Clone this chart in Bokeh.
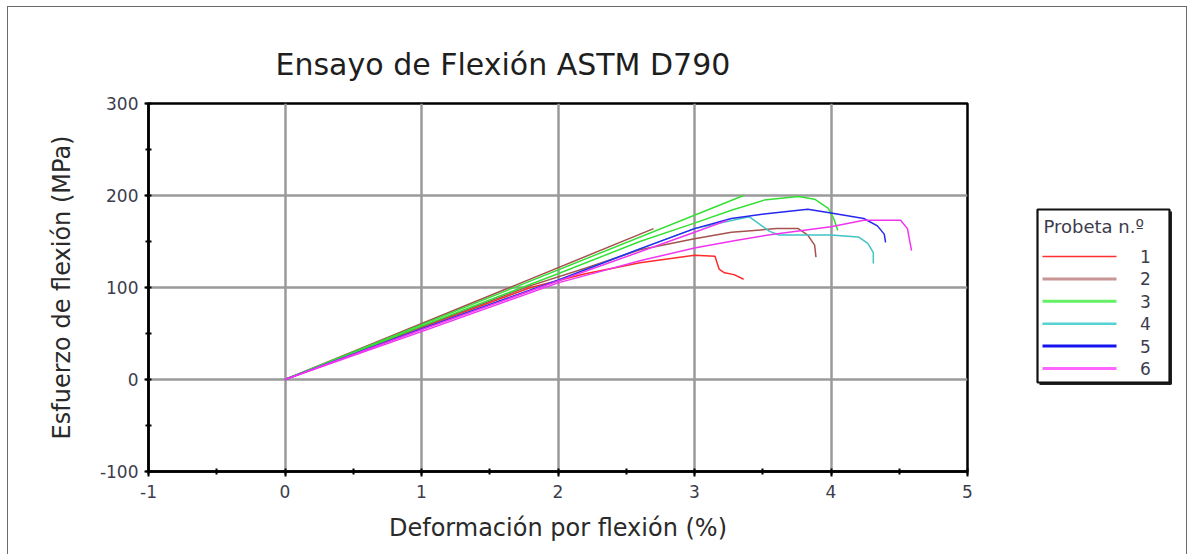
from bokeh.plotting import figure
from bokeh.layouts import row
from bokeh.models import SingleIntervalTicker, Range1d
from bokeh.core.properties import value
from bokeh.embed import file_html
from bokeh.resources import INLINE

FONT = "DejaVu Sans"

# Deformación por flexión (%) vs esfuerzo de flexión (MPa) por probeta.
# Algunas probetas tienen dos tramos registrados.
s1_strain = [0.0, 1.0, 1.8, 2.2, 2.6, 3.0, 3.15, 3.18, 3.22, 3.29, 3.36]
s1_stress = [0, 56, 100, 115, 127, 135, 134, 120, 116, 114, 109]

s2a_strain = [0.0, 2.70]
s2a_stress = [0, 164]
s2b_strain = [0.0, 1.0, 1.8, 2.2, 2.6, 3.0, 3.27, 3.6, 3.76, 3.83, 3.88, 3.89]
s2b_stress = [0, 57, 102, 121, 141, 153, 160, 164, 164, 157, 146, 133]

s3a_strain = [0.0, 3.36]
s3a_stress = [0, 200]
s3b_strain = [0.0, 1.0, 2.0, 2.6, 3.0, 3.27, 3.51, 3.76, 3.88, 3.98, 4.02, 4.05]
s3b_stress = [0, 58, 115, 150, 170, 184, 195, 199, 196, 186, 175, 162]

s4_strain = [0.0, 1.0, 2.0, 2.6, 3.0, 3.4, 3.55, 3.62, 4.0, 4.2, 4.27, 4.31, 4.31]
s4_stress = [0, 55, 108, 142, 164, 177, 161, 157, 157, 155, 148, 138, 126]

s5_strain = [0.0, 1.0, 2.0, 2.6, 3.0, 3.27, 3.51, 3.83, 4.0, 4.24, 4.34, 4.39, 4.40]
s5_stress = [0, 55, 108, 142, 164, 175, 180, 185, 181, 175, 167, 158, 149]

s6a_strain = [0.0, 1.0, 2.0, 3.0, 3.24]
s6a_stress = [0, 54, 107, 160, 173]
s6b_strain = [0.0, 1.0, 2.0, 2.3, 2.6, 3.0, 3.3, 3.58, 4.0, 4.24, 4.51, 4.56, 4.59]
s6b_stress = [0, 52, 105, 117, 129, 143, 151, 158, 166, 173, 173, 164, 140]

labels = ["1", "2", "3", "4", "5", "6"]
line_colors = ["#ff2a2a", "#a4524e", "#34e034", "#40c4c4", "#2626f0", "#f034f0"]
legend_colors = ["#ff3030", "#c89494", "#66f066", "#55d2d2", "#1414f0", "#ff66ff"]
legend_widths = [1.6, 3, 3, 2.5, 3, 3]

MAIN_W, H = 1020, 547
BORDER_TOP, BORDER_BOTTOM = 96, 83

p = figure(width=MAIN_W, height=H,
           x_range=Range1d(-1, 5), y_range=Range1d(-100, 300),
           output_backend="svg", toolbar_location=None,
           min_border_left=140, min_border_right=MAIN_W - 140 - 819,
           min_border_top=BORDER_TOP, min_border_bottom=BORDER_BOTTOM)

p.title.text = "Ensayo de Flexión ASTM D790"
p.title.text_font = FONT
p.title.text_font_size = "30px"
p.title.text_font_style = "normal"
p.title.text_color = "#1e1e1e"
p.title.align = "left"
p.title.offset = 127
p.title.standoff = 44

p.outline_line_color = "black"
p.outline_line_width = 2.5
p.background_fill_color = "white"
p.border_fill_color = "white"

p.xaxis.ticker = SingleIntervalTicker(interval=1, num_minor_ticks=2)
p.yaxis.ticker = SingleIntervalTicker(interval=100, num_minor_ticks=2)
p.xaxis.major_label_overrides = {-1: "-1"}
p.yaxis.major_label_overrides = {-100: "-100"}
for ax in (p.xaxis[0], p.yaxis[0]):
    ax.axis_line_color = "black"
    ax.axis_line_width = 2.5
    ax.major_tick_line_color = "black"
    ax.major_tick_line_width = 2
    ax.minor_tick_line_color = "black"
    ax.minor_tick_line_width = 2
    ax.major_tick_in = 0
    ax.minor_tick_in = 3
    ax.minor_tick_out = 3
    ax.major_label_text_font = FONT
    ax.major_label_text_font_size = "17px"
    ax.major_label_text_color = "#3c3c4c"
    ax.axis_label_text_font = FONT
    ax.axis_label_text_font_size = "24px"
    ax.axis_label_text_font_style = "normal"
    ax.axis_label_text_color = "#2a2a2a"

p.xaxis.axis_label = "Deformación por flexión (%)"
p.yaxis.axis_label = "Esfuerzo de flexión (MPa)"
p.xaxis.major_tick_out = 5
p.yaxis.major_tick_out = 4
p.xaxis.major_label_standoff = 8
p.yaxis.major_label_standoff = 6
p.xaxis.axis_label_standoff = 13
p.yaxis.axis_label_standoff = 21

p.xgrid.grid_line_color = "#9a9a9a"
p.ygrid.grid_line_color = "#9a9a9a"
p.xgrid.grid_line_width = 2.5
p.ygrid.grid_line_width = 2.5

series = [
    [(s1_strain, s1_stress)],
    [(s2a_strain, s2a_stress), (s2b_strain, s2b_stress)],
    [(s3a_strain, s3a_stress), (s3b_strain, s3b_stress)],
    [(s4_strain, s4_stress)],
    [(s5_strain, s5_stress)],
    [(s6a_strain, s6a_stress), (s6b_strain, s6b_stress)],
]
for pieces, color in zip(series, line_colors):
    for xs, ys in pieces:
        p.line(xs, ys, line_color=color, line_width=1.5)

# Legend panel: a small figure beside the chart, in page-pixel units.
# Its frame lines up vertically with the chart frame (page y 103..471).
X0 = 8 + MAIN_W
LEG_W = 1178 - MAIN_W
leg = figure(width=LEG_W, height=H,
             x_range=Range1d(X0, X0 + LEG_W), y_range=Range1d(471, 103),
             output_backend="svg", toolbar_location=None,
             min_border_left=0, min_border_right=0,
             min_border_top=BORDER_TOP, min_border_bottom=BORDER_BOTTOM,
             outline_line_color=None)
leg.axis.visible = False
leg.grid.visible = False
leg.background_fill_color = "white"
leg.border_fill_color = "white"

box_l, box_r, box_t, box_b = 1037, 1169, 209, 382
# drop shadow on the right and bottom edges
leg.line([box_l + 2, box_r + 1.5, box_r + 1.5], [box_b + 1.5, box_b + 1.5, box_t + 2],
         line_color="#222222", line_width=2)
leg.quad(left=[box_l], right=[box_r], top=[box_t], bottom=[box_b],
         fill_color="white", line_color="#111111", line_width=2.2)
leg.text(x=[box_l + 6], y=[226], text=["Probeta n.º"], text_font=value(FONT),
         text_font_size="18px", text_color="#3c3c4c", text_baseline="middle")

row_y0, row_step = 256, 22.4
for i, (lab, color, w) in enumerate(zip(labels, legend_colors, legend_widths)):
    yy = row_y0 + i * row_step
    leg.line([box_l + 5, box_l + 79], [yy, yy], line_color=color, line_width=w)
    leg.text(x=[box_l + 108], y=[yy], text=[lab], text_font=value(FONT),
             text_font_size="17px", text_color="#3c3c4c",
             text_align="center", text_baseline="middle")

layout = row(p, leg, spacing=0)
layout.margin = (6, 0, 0, 7)
layout.styles = {"border-left": "1px solid #6b6b6b",
                 "border-top": "1px solid #6b6b6b",
                 "border-right": "1px solid #6b6b6b"}

open("out.html", "w").write(file_html(layout, INLINE))
